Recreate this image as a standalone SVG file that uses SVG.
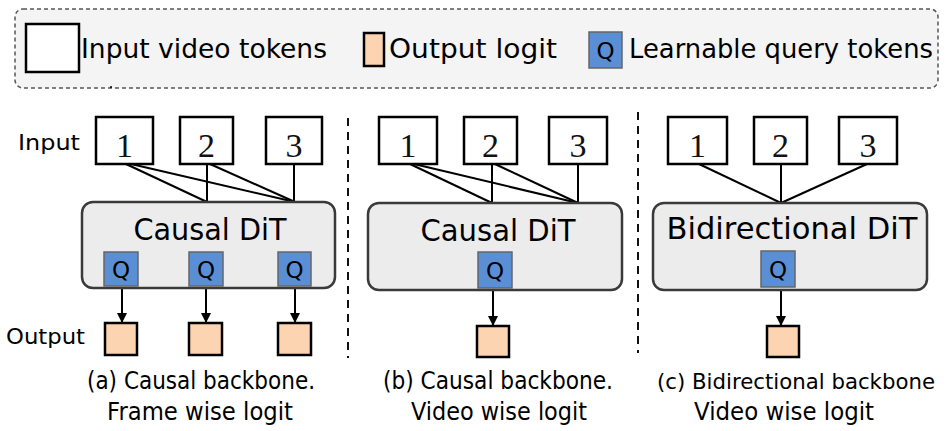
<svg xmlns="http://www.w3.org/2000/svg" width="948" height="431" viewBox="0 0 948 431">
<defs>
<marker id="arr" viewBox="0 0 10 10" refX="10" refY="5" markerWidth="10" markerHeight="10" markerUnits="userSpaceOnUse" orient="auto">
<path d="M0,0 L10,5 L0,10 z" fill="#000"/>
</marker>
<style>
.t{font-family:"DejaVu Sans","Liberation Sans",sans-serif;fill:#000}
.num{font-family:"Liberation Serif","DejaVu Serif",serif;font-size:34px;text-anchor:middle;fill:#111}
.in{fill:#fff;stroke:#000;stroke-width:2.5}
.out{fill:#fdd4b1;stroke:#000;stroke-width:2.5}
.q{fill:#5a8fd6;stroke:#666;stroke-width:1.5}
.qt{font-family:"DejaVu Sans","Liberation Sans",sans-serif;font-size:23px;text-anchor:middle;fill:#000}
.dit{fill:#ececec;stroke:#3a3a3a;stroke-width:2.5}
.ln{stroke:#000;stroke-width:2;fill:none}
.ar{stroke:#000;stroke-width:2;fill:none;marker-end:url(#arr)}
.div{stroke:#111;stroke-width:2;stroke-dasharray:8 6}
</style>
</defs>
<rect width="948" height="431" fill="#fff"/>

<g id="legend">
<rect x="15" y="9" width="923" height="79" rx="8" fill="#f4f4f4" stroke="#555" stroke-width="1.5" stroke-dasharray="4 3"/>
<rect x="26" y="24" width="53" height="48" class="in"/>
<text class="t" x="81" y="58" font-size="27" textLength="246" lengthAdjust="spacingAndGlyphs">Input video tokens</text>
<rect x="364" y="33" width="20" height="33" class="out"/>
<text class="t" x="389" y="58" font-size="27" textLength="168" lengthAdjust="spacingAndGlyphs">Output logit</text>
<rect x="589" y="32" width="33" height="36" class="q"/>
<text class="qt" x="605.5" y="59">Q</text>
<text class="t" x="629" y="58" font-size="27" textLength="304" lengthAdjust="spacingAndGlyphs">Learnable query tokens</text>
<circle cx="111" cy="87" r="1" fill="#000"/>
</g>

<g id="dividers">
<line class="div" x1="348" y1="118" x2="348" y2="358"/>
<line class="div" x1="638" y1="112" x2="638" y2="353"/>
</g>

<g id="labels">
<text class="t" x="18" y="150" font-size="22" textLength="62" lengthAdjust="spacingAndGlyphs">Input</text>
<text class="t" x="6" y="344" font-size="22" textLength="79" lengthAdjust="spacingAndGlyphs">Output</text>
</g>

<g id="connectors">
<line class="ln" x1="126" y1="164" x2="207" y2="202"/>
<line class="ln" x1="131" y1="164" x2="295" y2="202"/>
<line class="ln" x1="207" y1="164" x2="207" y2="202"/>
<line class="ln" x1="210" y1="164" x2="295" y2="202"/>
<line class="ln" x1="294" y1="164" x2="294" y2="202"/>
<line class="ar" x1="122" y1="287" x2="122" y2="323"/>
<line class="ar" x1="206" y1="287" x2="206" y2="323"/>
<line class="ar" x1="295" y1="287" x2="295" y2="323"/>

<line class="ln" x1="410" y1="164" x2="492" y2="203"/>
<line class="ln" x1="414" y1="164" x2="578" y2="203"/>
<line class="ln" x1="492" y1="164" x2="492" y2="203"/>
<line class="ln" x1="495" y1="164" x2="578" y2="203"/>
<line class="ln" x1="578" y1="164" x2="578" y2="203"/>
<line class="ar" x1="493" y1="289" x2="493" y2="326"/>

<line class="ln" x1="699" y1="164" x2="781" y2="203"/>
<line class="ln" x1="781" y1="164" x2="781" y2="203"/>
<line class="ln" x1="867" y1="164" x2="781" y2="203"/>
<line class="ar" x1="781" y1="288" x2="781" y2="326"/>
</g>

<g id="panel-a">
<g id="a-in1"><rect x="96" y="117" width="57" height="47" class="in"/><text class="num" x="124.5" y="157">1</text></g>
<g id="a-in2"><rect x="180" y="117" width="53" height="47" class="in"/><text class="num" x="206.5" y="157">2</text></g>
<g id="a-in3"><rect x="266" y="117" width="56" height="47" class="in"/><text class="num" x="294" y="157">3</text></g>
<g id="a-dit"><rect x="82" y="202" width="253" height="86" rx="11" class="dit"/>
<text class="t" x="210" y="240" font-size="30" text-anchor="middle" textLength="153" lengthAdjust="spacingAndGlyphs">Causal DiT</text></g>
<g id="a-q1"><rect x="104" y="252" width="34" height="34" class="q"/><text class="qt" x="121" y="278">Q</text></g>
<g id="a-q2"><rect x="189" y="252" width="34" height="34" class="q"/><text class="qt" x="206" y="278">Q</text></g>
<g id="a-q3"><rect x="278" y="252" width="33" height="34" class="q"/><text class="qt" x="294.5" y="278">Q</text></g>
<g id="a-out1"><rect x="105" y="323" width="32" height="32" class="out"/></g>
<g id="a-out2"><rect x="189" y="323" width="33" height="32" class="out"/></g>
<g id="a-out3"><rect x="278" y="323" width="33" height="32" class="out"/></g>
<text class="t" x="201" y="389" font-size="24" text-anchor="middle" textLength="228" lengthAdjust="spacingAndGlyphs">(a) Causal backbone.</text>
<text class="t" x="200" y="420" font-size="24" text-anchor="middle" textLength="186" lengthAdjust="spacingAndGlyphs">Frame wise logit</text>
</g>

<g id="panel-b">
<g id="b-in1"><rect x="379" y="117" width="58" height="47" class="in"/><text class="num" x="408" y="157">1</text></g>
<g id="b-in2"><rect x="464" y="117" width="53" height="47" class="in"/><text class="num" x="490.5" y="157">2</text></g>
<g id="b-in3"><rect x="549" y="117" width="58" height="47" class="in"/><text class="num" x="578" y="157">3</text></g>
<g id="b-dit"><rect x="368" y="203" width="254" height="87" rx="11" class="dit"/>
<text class="t" x="498" y="241" font-size="30" text-anchor="middle" textLength="155" lengthAdjust="spacingAndGlyphs">Causal DiT</text></g>
<g id="b-q"><rect x="478" y="252" width="34" height="36" class="q"/><text class="qt" x="495" y="279">Q</text></g>
<g id="b-out"><rect x="477" y="326" width="32" height="31" class="out"/></g>
<text class="t" x="498" y="389" font-size="24" text-anchor="middle" textLength="230" lengthAdjust="spacingAndGlyphs">(b) Causal backbone.</text>
<text class="t" x="499" y="420" font-size="24" text-anchor="middle" textLength="176" lengthAdjust="spacingAndGlyphs">Video wise logit</text>
</g>

<g id="panel-c">
<g id="c-in1"><rect x="668" y="117" width="59" height="47" class="in"/><text class="num" x="697.5" y="157">1</text></g>
<g id="c-in2"><rect x="754" y="117" width="53" height="47" class="in"/><text class="num" x="780.5" y="157">2</text></g>
<g id="c-in3"><rect x="839" y="117" width="58" height="47" class="in"/><text class="num" x="868" y="157">3</text></g>
<g id="c-dit"><rect x="653" y="203" width="274" height="87" rx="11" class="dit"/>
<text class="t" x="792" y="239" font-size="31" text-anchor="middle" textLength="251" lengthAdjust="spacingAndGlyphs">Bidirectional DiT</text></g>
<g id="c-q"><rect x="761" y="251" width="34" height="36" class="q"/><text class="qt" x="778" y="278">Q</text></g>
<g id="c-out"><rect x="767" y="326" width="32" height="31" class="out"/></g>
<text class="t" x="796" y="389" font-size="22" text-anchor="middle" textLength="278" lengthAdjust="spacingAndGlyphs">(c) Bidirectional backbone</text>
<text class="t" x="784" y="420" font-size="24" text-anchor="middle" textLength="180" lengthAdjust="spacingAndGlyphs">Video wise logit</text>
</g>
</svg>
